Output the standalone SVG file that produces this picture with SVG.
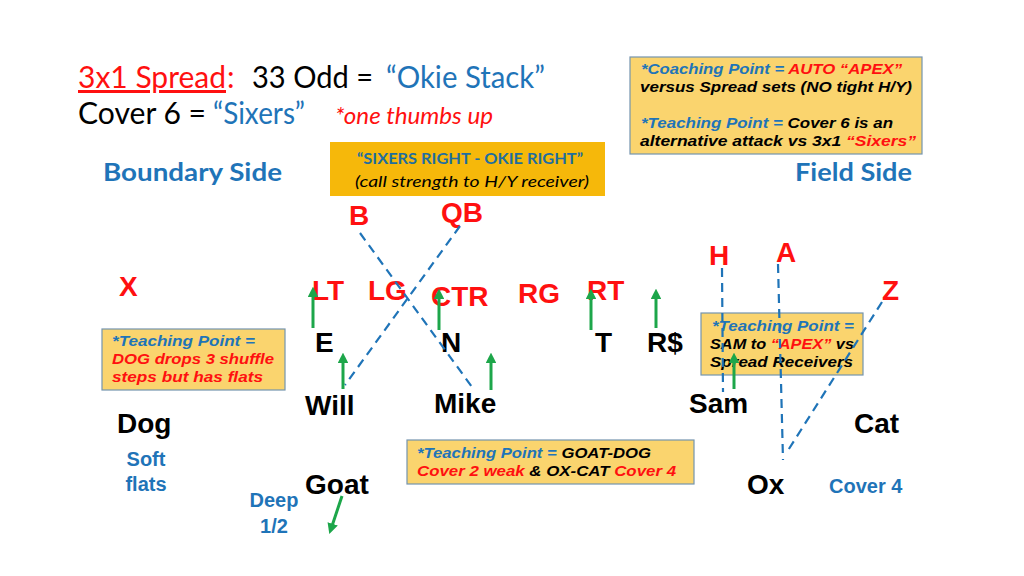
<svg xmlns="http://www.w3.org/2000/svg" width="1024" height="576" viewBox="0 0 1024 576">
<style>
.cal{font-family:Lato,"Open Sans","Liberation Sans",sans-serif}
.ar{font-family:"Liberation Sans",Arial,sans-serif;font-weight:bold}
.red{fill:#FF1010}
.blk{fill:#000}
.blu{fill:#1F74B8}
.pos{font-size:28px}
.def{font-size:28px}
.lbl{font-size:20px}
.note{font-family:"Liberation Sans",Arial,sans-serif;font-weight:bold;font-style:italic;font-size:14px}
.box{fill:#FAD46E;stroke:#7494AE;stroke-width:1.2}
.dash{stroke:#1F74B8;stroke-width:2.2;stroke-dasharray:9 6;fill:none}
.grn{stroke:#1DA64A;stroke-width:3;fill:none;marker-end:url(#ga)}
</style>
<defs>
<marker id="ga" viewBox="0 0 10 10" refX="5" refY="5" markerWidth="3.6" markerHeight="3.6" orient="auto">
<path d="M0,0 L10,5 L0,10 z" fill="#1DA64A"/>
</marker>
</defs>
<rect width="1024" height="576" fill="#fff"/>

<g id="title">
<text class="cal red" x="78" y="88" font-size="30" textLength="148" lengthAdjust="spacingAndGlyphs" text-decoration="underline">3x1 Spread</text>
<text class="cal red" x="227" y="88" font-size="30">:</text>
<text class="cal blk" x="252" y="88" font-size="30" textLength="121" lengthAdjust="spacingAndGlyphs">33 Odd =</text>
<text class="cal blu" x="386" y="88" font-size="30" textLength="159" lengthAdjust="spacingAndGlyphs">“Okie Stack”</text>
<text class="cal blk" x="78" y="124" font-size="30" textLength="128" lengthAdjust="spacingAndGlyphs">Cover 6 =</text>
<text class="cal blu" x="213" y="124" font-size="30" textLength="92" lengthAdjust="spacingAndGlyphs">“Sixers”</text>
<text class="cal red" x="335" y="124" font-size="23" font-style="italic" textLength="158" lengthAdjust="spacingAndGlyphs">*one thumbs up</text>
</g>

<g id="sides">
<text class="cal blu" x="103" y="181" font-size="24" font-weight="bold" textLength="179" lengthAdjust="spacingAndGlyphs">Boundary Side</text>
<text class="cal blu" x="795" y="181" font-size="24" font-weight="bold" textLength="117" lengthAdjust="spacingAndGlyphs">Field Side</text>
</g>

<g id="coaching-box">
<rect class="box" x="630" y="57" width="292" height="97"/>
<text class="note" x="641" y="74" textLength="261" lengthAdjust="spacingAndGlyphs"><tspan class="blu">*Coaching Point = </tspan><tspan class="red">AUTO “APEX”</tspan></text>
<text class="note blk" x="640" y="92" textLength="272" lengthAdjust="spacingAndGlyphs">versus Spread sets (NO tight H/Y)</text>
<text class="note" x="641" y="128" textLength="252" lengthAdjust="spacingAndGlyphs"><tspan class="blu">*Teaching Point = </tspan><tspan class="blk">Cover 6 is an</tspan></text>
<text class="note" x="640" y="146" textLength="276" lengthAdjust="spacingAndGlyphs"><tspan class="blk">alternative attack vs 3x1 </tspan><tspan class="red">“Sixers”</tspan></text>
</g>

<g id="call-box">
<rect x="330" y="142" width="275" height="54" fill="#F6B80A"/>
<text class="cal" x="470" y="164" font-size="15" font-weight="bold" fill="#1F6E9E" text-anchor="middle" textLength="226" lengthAdjust="spacingAndGlyphs">“SIXERS RIGHT - OKIE RIGHT”</text>
<text class="cal blk" x="355" y="187" font-size="15" font-style="italic" textLength="234" lengthAdjust="spacingAndGlyphs">(call strength to H/Y receiver)</text>
</g>

<g id="dog-box">
<rect class="box" x="102" y="329" width="183" height="61"/>
<text class="note blu" x="112" y="346" textLength="143" lengthAdjust="spacingAndGlyphs">*Teaching Point =</text>
<text class="note red" x="112" y="364" textLength="162" lengthAdjust="spacingAndGlyphs">DOG drops 3 shuffle</text>
<text class="note red" x="112" y="382" textLength="151" lengthAdjust="spacingAndGlyphs">steps but has flats</text>
</g>

<g id="goat-box">
<rect class="box" x="407" y="440" width="287" height="44"/>
<text class="note" x="417" y="458" textLength="234" lengthAdjust="spacingAndGlyphs"><tspan class="blu">*Teaching Point = </tspan><tspan class="blk">GOAT-DOG</tspan></text>
<text class="note" x="417" y="476" textLength="259" lengthAdjust="spacingAndGlyphs"><tspan class="red">Cover 2 weak </tspan><tspan class="blk">&amp; OX-CAT </tspan><tspan class="red">Cover 4</tspan></text>
</g>

<g id="sam-box">
<rect class="box" x="701" y="313" width="162" height="62"/>
<text class="note blu" x="712" y="331" textLength="142" lengthAdjust="spacingAndGlyphs">*Teaching Point =</text>
<text class="note" x="710" y="349" textLength="144" lengthAdjust="spacingAndGlyphs"><tspan class="blk">SAM to </tspan><tspan class="red">“APEX”</tspan><tspan class="blk"> vs</tspan></text>
<text class="note blk" x="710" y="367" textLength="143" lengthAdjust="spacingAndGlyphs">Spread Receivers</text>
</g>

<g id="offense">
<g id="B"><text class="ar pos red" x="349" y="225">B</text></g>
<g id="QB"><text class="ar pos red" x="441" y="222">QB</text></g>
<g id="H"><text class="ar pos red" x="709" y="265">H</text></g>
<g id="A"><text class="ar pos red" x="776" y="262">A</text></g>
<g id="X"><text class="ar pos red" x="119" y="296">X</text></g>
<g id="LT"><text class="ar pos red" x="312" y="300">LT</text></g>
<g id="LG"><text class="ar pos red" x="368" y="300">LG</text></g>
<g id="CTR"><text class="ar pos red" x="431" y="306">CTR</text></g>
<g id="RG"><text class="ar pos red" x="518" y="303">RG</text></g>
<g id="RT"><text class="ar pos red" x="587" y="300">RT</text></g>
<g id="Z"><text class="ar pos red" x="882" y="300">Z</text></g>
</g>

<g id="defense">
<g id="E"><text class="ar def blk" x="315" y="352">E</text></g>
<g id="N"><text class="ar def blk" x="441" y="352">N</text></g>
<g id="T"><text class="ar def blk" x="595" y="352">T</text></g>
<g id="Rdollar"><text class="ar def blk" x="647" y="352">R$</text></g>
<g id="Will"><text class="ar def blk" x="305" y="415">Will</text></g>
<g id="Mike"><text class="ar def blk" x="434" y="413">Mike</text></g>
<g id="Sam"><text class="ar def blk" x="689" y="413">Sam</text></g>
<g id="Dog"><text class="ar def blk" x="117" y="433">Dog</text></g>
<g id="Cat"><text class="ar def blk" x="854" y="433">Cat</text></g>
<g id="Goat"><text class="ar def blk" x="305" y="494">Goat</text></g>
<g id="Ox"><text class="ar def blk" x="747" y="494">Ox</text></g>
</g>

<g id="coverage-labels">
<text class="ar lbl blu" x="146" y="466" text-anchor="middle">Soft</text>
<text class="ar lbl blu" x="146" y="491" text-anchor="middle">flats</text>
<text class="ar lbl blu" x="274" y="507" text-anchor="middle">Deep</text>
<text class="ar lbl blu" x="274" y="533" text-anchor="middle">1/2</text>
<text class="ar lbl blu" x="829" y="493">Cover 4</text>
</g>

<g id="connectors">
<line class="dash" x1="360" y1="233" x2="472" y2="387"/>
<line class="dash" x1="460" y1="226" x2="345" y2="385"/>
<line class="dash" x1="722" y1="268" x2="723" y2="392"/>
<line class="dash" x1="778" y1="264" x2="783" y2="460"/>
<line class="dash" x1="882" y1="302" x2="787" y2="452"/>
<line class="grn" x1="313" y1="328" x2="313" y2="292"/>
<line class="grn" x1="343" y1="389" x2="343" y2="358"/>
<line class="grn" x1="439" y1="330" x2="439" y2="294"/>
<line class="grn" x1="491" y1="390" x2="491" y2="358"/>
<line class="grn" x1="591" y1="330" x2="591" y2="294"/>
<line class="grn" x1="656" y1="328" x2="656" y2="294"/>
<line class="grn" x1="734" y1="389" x2="734" y2="358"/>
<line class="grn" x1="342" y1="496" x2="331" y2="529"/>
</g>
</svg>
